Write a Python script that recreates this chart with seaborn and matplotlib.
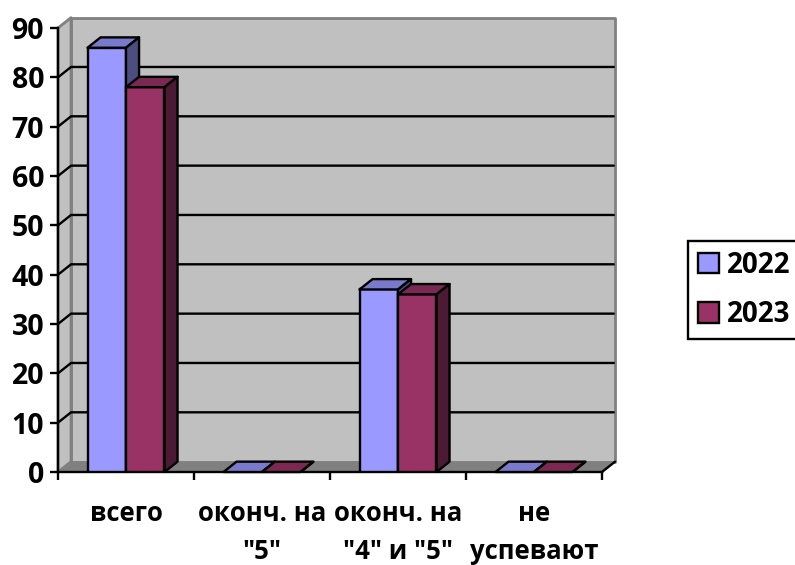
"""
Bar chart with a pseudo-3D look (old Excel style), built on a seaborn barplot.
"""
import matplotlib
matplotlib.use("Agg")
import matplotlib.pyplot as plt
from matplotlib.colors import to_rgb
from matplotlib.patches import Patch, Polygon
import pandas as pd
import seaborn as sns

categories = ["всего", 'оконч. на\n"5"', 'оконч. на\n"4" и "5"', "не\nуспевают"]
values_2022 = [86, 0, 37, 0]
values_2023 = [78, 0, 36, 0]
years = ["2022", "2023"]
y_ticks = [0, 10, 20, 30, 40, 50, 60, 70, 80, 90]

COLORS = {"2022": "#9999FF", "2023": "#993366"}
WALL = "#C0C0C0"
FLOOR = "#808080"
# depth of the fake 3D box, in data units (about 13 px right, 10 px up)
DX = 0.096
DY = 2.1
LW = 1.7
FONT = 18.5
FONT_BIG = 20.5

sns.set_style("white")
plt.rcParams["font.family"] = ["Open Sans", "DejaVu Sans"]
plt.rcParams["font.weight"] = "bold"
plt.rcParams["text.color"] = "black"
plt.rcParams["xtick.labelcolor"] = "black"
plt.rcParams["ytick.labelcolor"] = "black"

df = pd.DataFrame({
    "category": categories * 2,
    "year": [years[0]] * 4 + [years[1]] * 4,
    "value": values_2022 + values_2023,
})

fig = plt.figure(figsize=(7.95, 5.65), dpi=100)
ax = fig.add_axes([58 / 795, 1 - 472 / 565, 544 / 795, 444 / 565])
ax.patch.set_visible(False)

sns.barplot(
    data=df, x="category", y="value", hue="year", palette=COLORS,
    width=0.566, gap=0, saturation=1, edgecolor="black", linewidth=LW,
    legend=False, ax=ax,
)
x0, x1 = -0.5, len(categories) - 0.5
y0, y1 = y_ticks[0], y_ticks[-1]
ax.set_xlim(x0, x1)
ax.set_ylim(y0, y1)


def face(points, color, z, edge="none", lw=0):
    ax.add_patch(Polygon(points, closed=True, facecolor=color, edgecolor=edge,
                         linewidth=lw, clip_on=False, zorder=z, joinstyle="round"))


def shade(color, k):
    return tuple(c * k for c in to_rgb(color))


# walls and floor
face([(x0 + DX, y0 + DY), (x1 + DX, y0 + DY), (x1 + DX, y1 + DY), (x0 + DX, y1 + DY)],
     WALL, 0.1, FLOOR, 2)
face([(x0, y0), (x0 + DX, y0 + DY), (x0 + DX, y1 + DY), (x0, y1)], WALL, 0.2, FLOOR, 2)
face([(x0, y0), (x0 + DX, y0 + DY), (x1 + DX, y0 + DY), (x1, y0)], FLOOR, 0.3)
ax.plot([x1, x1 + DX], [y0, y0 + DY], color="black", lw=LW, clip_on=False, zorder=0.4)

# gridlines run along the back wall and down the left wall
for v in y_ticks[1:-1]:
    ax.plot([x0, x0 + DX, x1 + DX * 0.9], [v, v + DY, v + DY], color="black", lw=LW,
            clip_on=False, zorder=0.5)

# top and side faces for each bar, left to right so neighbours overlap properly
bars = []
for container, year in zip(ax.containers, years):
    bars += [(b, year) for b in container]
bars.sort(key=lambda item: item[0].get_x())
for i, (bar, year) in enumerate(bars):
    left, right = bar.get_x(), bar.get_x() + bar.get_width()
    top = bar.get_height()
    z = 2 + i
    bar.set_zorder(z)
    face([(left, top), (left + DX, top + DY), (right + DX, top + DY), (right, top)],
         shade(COLORS[year], 0.8), z, "black", LW)
    face([(right, 0), (right + DX, DY), (right + DX, top + DY), (right, top)],
         shade(COLORS[year], 0.5), z, "black", LW)

sns.despine(ax=ax)
for side in ["left", "bottom"]:
    ax.spines[side].set_linewidth(LW)
    ax.spines[side].set_color("black")
    ax.spines[side].set_zorder(1.5)

ax.set_xlabel("")
ax.set_ylabel("")
ax.set_yticks(y_ticks)
ax.tick_params(axis="y", length=6, width=LW, labelsize=FONT_BIG, pad=4, color="black", left=True)
# tick marks sit between the categories, labels under the middle of each group
ax.set_xticks(range(len(categories)))
ax.set_xticklabels(categories, fontsize=FONT, linespacing=1.55)
ax.tick_params(axis="x", which="major", length=0, pad=20)
ax.set_xticks([x0 + i for i in range(len(categories) + 1)], minor=True)
ax.tick_params(axis="x", which="minor", length=6, width=LW, color="black", bottom=True)

handles = [Patch(facecolor=COLORS[y], edgecolor="black", linewidth=LW, label=y) for y in years]
leg = fig.legend(
    handles=handles, loc="upper left", bbox_to_anchor=(688 / 795, 1 - 241 / 565),
    borderaxespad=0, fontsize=FONT_BIG - 0.5, frameon=True, fancybox=False, edgecolor="black",
    framealpha=1, handlelength=0.76, handleheight=0.76, handletextpad=0.3,
    labelspacing=0.74, borderpad=0.35,
)
leg.get_frame().set_linewidth(LW)

fig.savefig("out.png", dpi=100)
